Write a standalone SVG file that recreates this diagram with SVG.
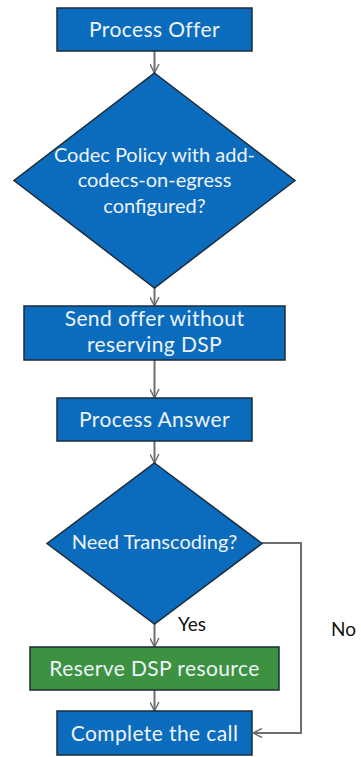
<svg xmlns="http://www.w3.org/2000/svg" width="361" height="757" viewBox="0 0 361 757">
<defs>
<marker id="arr" viewBox="0 0 10 10" refX="10" refY="5" markerWidth="10" markerHeight="10" markerUnits="userSpaceOnUse" orient="auto">
<path d="M1,0.5 L10,5 L1,9.5" fill="none" stroke="#6e6e6e" stroke-width="1.5"/>
</marker>
</defs>
<style>
.blue{fill:#0b6cbd;stroke:#1c2b38;stroke-width:1.5}
.green{fill:#3d9242;stroke:#1c2b38;stroke-width:1.5}
.t{font-family:Lato,"Liberation Sans",sans-serif;font-size:21px;letter-spacing:0.4px;fill:#eef3f8;text-anchor:middle}
.d{font-family:Lato,"Liberation Sans",sans-serif;font-size:20px;fill:#eef3f8;text-anchor:middle}
.lbl{font-family:Lato,"Liberation Sans",sans-serif;font-size:19px;fill:#111;text-anchor:start}
.c{fill:none;stroke:#6e6e6e;stroke-width:2;marker-end:url(#arr)}
</style>
<rect width="361" height="757" fill="#fff"/>
<g id="connectors">
<line class="c" x1="154.5" y1="51" x2="154.5" y2="73"/>
<line class="c" x1="154.5" y1="288" x2="154.5" y2="306"/>
<line class="c" x1="154.5" y1="360" x2="154.5" y2="398"/>
<line class="c" x1="154.5" y1="441" x2="154.5" y2="463"/>
<line class="c" x1="154.5" y1="624" x2="154.5" y2="647"/>
<line class="c" x1="154.5" y1="690" x2="154.5" y2="711"/>
<polyline class="c" points="262,543 301,543 301,733 253,733"/>
<text class="lbl" x="178" y="631">Yes</text>
<text class="lbl" x="331" y="636">No</text>
</g>
<g id="process-offer">
<rect class="blue" x="57" y="8" width="195" height="43"/>
<text class="t" x="154.5" y="37">Process Offer</text>
</g>
<g id="codec-policy">
<polygon class="blue" points="154.5,73 295,180.5 154.5,288 14,180.5"/>
<text class="d" x="154.5" y="162">Codec Policy with add-</text>
<text class="d" x="154.5" y="187">codecs-on-egress</text>
<text class="d" x="154.5" y="213">configured?</text>
</g>
<g id="send-offer">
<rect class="blue" x="24" y="306" width="261" height="54"/>
<text class="t" x="154.5" y="326">Send offer without</text>
<text class="t" x="154.5" y="352">reserving DSP</text>
</g>
<g id="process-answer">
<rect class="blue" x="57" y="398" width="195" height="43"/>
<text class="t" x="154.5" y="427">Process Answer</text>
</g>
<g id="need-transcoding">
<polygon class="blue" points="154.5,463 262,543.5 154.5,624 47,543.5"/>
<text class="d" x="154.5" y="549">Need Transcoding?</text>
</g>
<g id="reserve-dsp">
<rect class="green" x="30" y="647" width="249" height="43"/>
<text class="t" x="154.5" y="676">Reserve DSP resource</text>
</g>
<g id="complete-call">
<rect class="blue" x="57" y="711" width="195" height="44"/>
<text class="t" x="154.5" y="741">Complete the call</text>
</g>
</svg>
